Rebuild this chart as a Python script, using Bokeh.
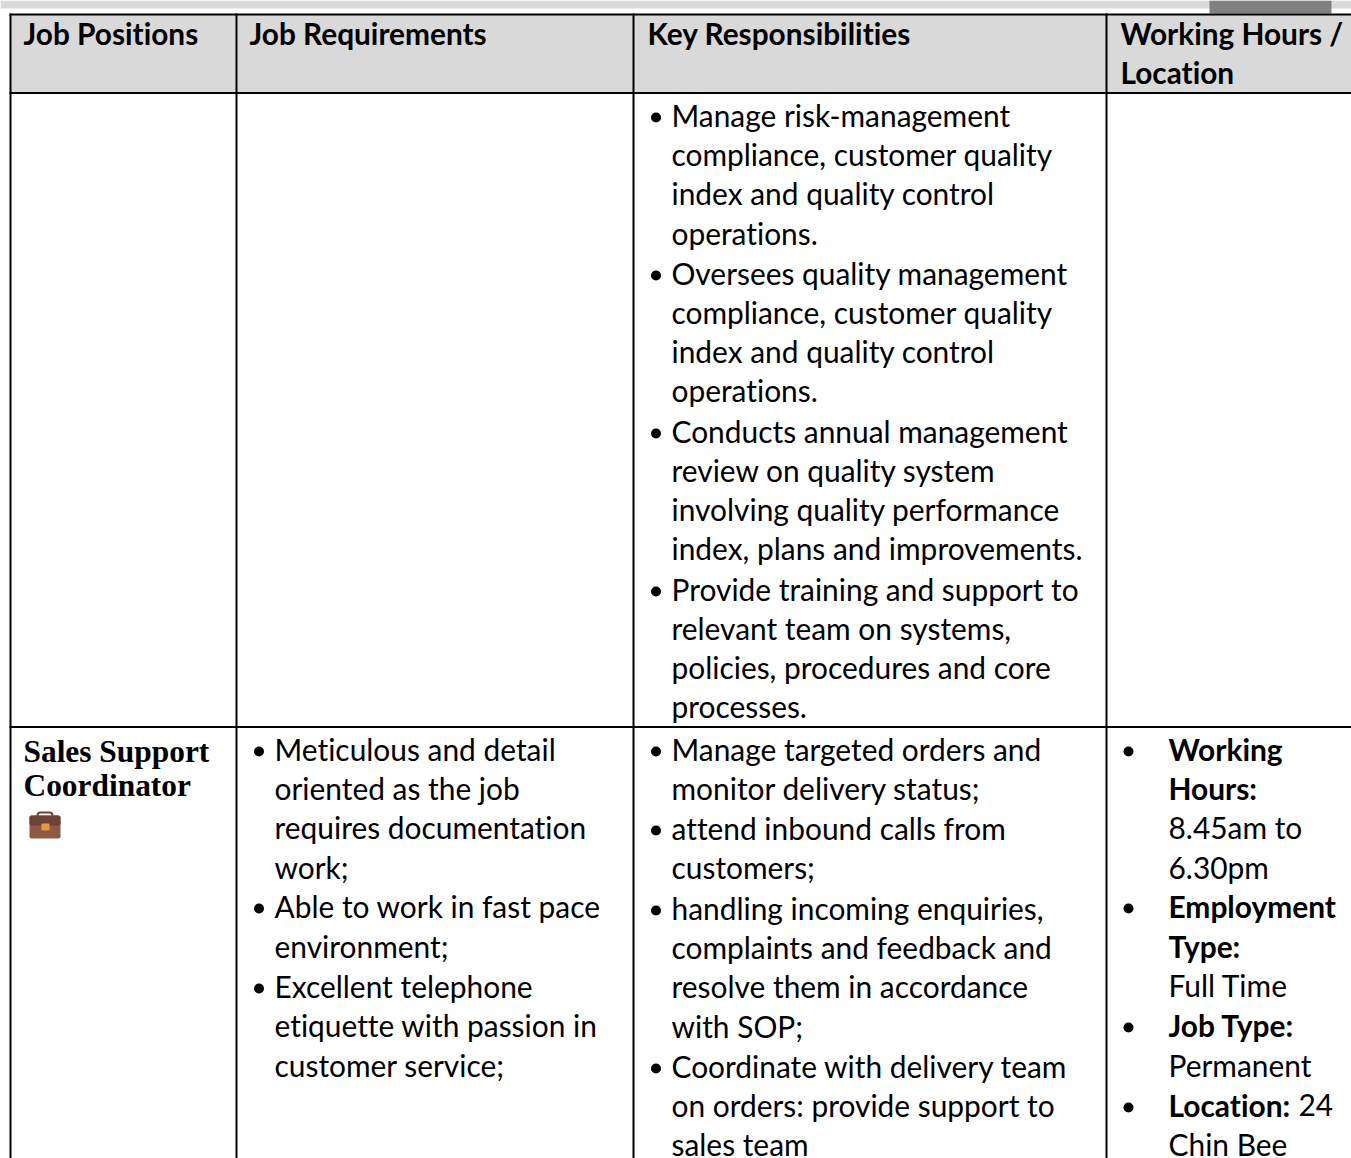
from bokeh.plotting import figure
from bokeh.models import Range1d
from bokeh.core.properties import value
from bokeh.embed import file_html
from bokeh.resources import INLINE

W, H = 1351, 1158
BODY = "Lato"
BLACK = "#000000"
TEXT_DY = -2
TEXT_DX = -1

# table structure
column_edges = [10, 236, 633, 1106]
header_top, header_bottom, row_rule = 14, 92.6, 726.6

# header
header_labels = ["Job Positions", "Job Requirements", "Key Responsibilities", "Working Hours /", "Location"]
header_x = [24, 250, 648, 1121, 1121]
header_y = [35, 35, 35, 35, 74]

# upper row, key responsibilities
upper_lines = ["Manage risk-management", "compliance, customer quality", "index and quality control",
               "operations.", "Oversees quality management", "compliance, customer quality",
               "index and quality control", "operations.", "Conducts annual management",
               "review on quality system", "involving quality performance",
               "index, plans and improvements.", "Provide training and support to",
               "relevant team on systems,", "policies, procedures and core", "processes."]
upper_y = [116, 155, 194, 234, 274, 313, 352, 391, 432, 471, 510, 549, 590, 629, 668, 707]
upper_bullets = [0, 4, 8, 12]

# lower row
position_lines = ["Sales Support", "Coordinator"]
position_y = [753, 787]

req_lines = ["Meticulous and detail", "oriented as the job", "requires documentation", "work;",
             "Able to work in fast pace", "environment;", "Excellent telephone",
             "etiquette with passion in", "customer service;"]
req_y = [750, 789, 828, 868, 907, 947, 987, 1026, 1066]
req_bullets = [0, 4, 6]

resp_lines = ["Manage targeted orders and", "monitor delivery status;", "attend inbound calls from",
              "customers;", "handling incoming enquiries,", "complaints and feedback and",
              "resolve them in accordance", "with SOP;", "Coordinate with delivery team",
              "on orders: provide support to", "sales team"]
resp_y = [750, 789, 829, 868, 909, 948, 987, 1027, 1067, 1106, 1145]
resp_bullets = [0, 2, 4, 8]

hours_lines = ["Working", "Hours:", "8.45am to", "6.30pm", "Employment", "Type:", "Full Time",
               "Job Type:", "Permanent", "Location:", "Chin Bee"]
hours_y = [750, 789, 828, 868, 907, 947, 986, 1026, 1066, 1106, 1145]
hours_bold = [0, 1, 4, 5, 7, 9]
hours_bullets = [0, 4, 7, 9]
location_number = "24"

p = figure(width=W, height=H, x_range=Range1d(0, W), y_range=Range1d(H, 0),
           x_axis_location=None, y_axis_location=None, min_border=0,
           toolbar_location=None, output_backend="svg", tools="")
p.grid.visible = False
p.outline_line_color = None
p.background_fill_color = "white"
p.styles = {"font-variant-ligatures": "none"}

# page strip behind the table and header fill
p.quad(left=[0], right=[W], top=[0], bottom=[8], fill_color="#d9d9d9", line_color=None)
p.quad(left=[1209], right=[1331], top=[0], bottom=[13], fill_color="#808080", line_color=None)
p.quad(left=[column_edges[0]], right=[W], top=[header_top], bottom=[header_bottom],
       fill_color="#d9d9d9", line_color=None)

# rules
for x in column_edges:
    p.segment(x0=[x], x1=[x], y0=[header_top - 1], y1=[H], line_color="black", line_width=2)
for y in (header_top, header_bottom, row_rule):
    p.segment(x0=[column_edges[0] - 1], x1=[W], y0=[y], y1=[y], line_color="black", line_width=2)


def draw(lines, x, ys, size="29.9px", style="normal", font=BODY):
    p.text(x=[x + TEXT_DX] * len(lines), y=[v + TEXT_DY for v in ys], text=lines,
           text_font=value(font), text_font_size=value(size),
           text_font_style=value(style), text_color=BLACK, text_align="left",
           text_baseline="middle")


def bullets(x, ys, idx, size=10):
    p.scatter(x=[x] * len(idx), y=[ys[i] + 1 for i in idx], size=size, marker="circle",
              fill_color=BLACK, line_color=None)


p.text(x=[v + TEXT_DX for v in header_x], y=[v + TEXT_DY for v in header_y], text=header_labels,
       text_font=value(BODY), text_font_size="29.8px", text_font_style="bold", text_color=BLACK,
       text_align="left", text_baseline="middle")

draw(upper_lines, 672, upper_y)
bullets(655.5, upper_y, upper_bullets)

draw(position_lines, 24, position_y, size="31.4px", style="bold", font="Liberation Serif")

draw(req_lines, 275, req_y)
bullets(258.5, req_y, req_bullets)

draw(resp_lines, 672, resp_y)
bullets(655.5, resp_y, resp_bullets)

bold_x = [hours_lines[i] for i in hours_bold]
bold_y = [hours_y[i] for i in hours_bold]
reg = [i for i in range(len(hours_lines)) if i not in hours_bold]
draw(bold_x, 1169, bold_y, style="bold")
draw([hours_lines[i] for i in reg], 1169, [hours_y[i] for i in reg])
draw([location_number], 1299, [hours_y[9]])
bullets(1128, hours_y, hours_bullets)

# briefcase icon
p.quad(left=[37], right=[52], top=[812], bottom=[820], fill_color=None, line_color="#6b4436",
       line_width=2, border_radius=3)
p.quad(left=[29], right=[60], top=[815], bottom=[838], fill_color="#8d5a44", line_color=None,
       border_radius=2)
p.quad(left=[29], right=[60], top=[815], bottom=[825], fill_color="#6b4436", line_color=None,
       border_radius=2)
p.quad(left=[41], right=[49], top=[823], bottom=[830], fill_color="#e39a3b", line_color=None,
       border_radius=1)

open("out.html", "w").write(file_html(p, INLINE))
